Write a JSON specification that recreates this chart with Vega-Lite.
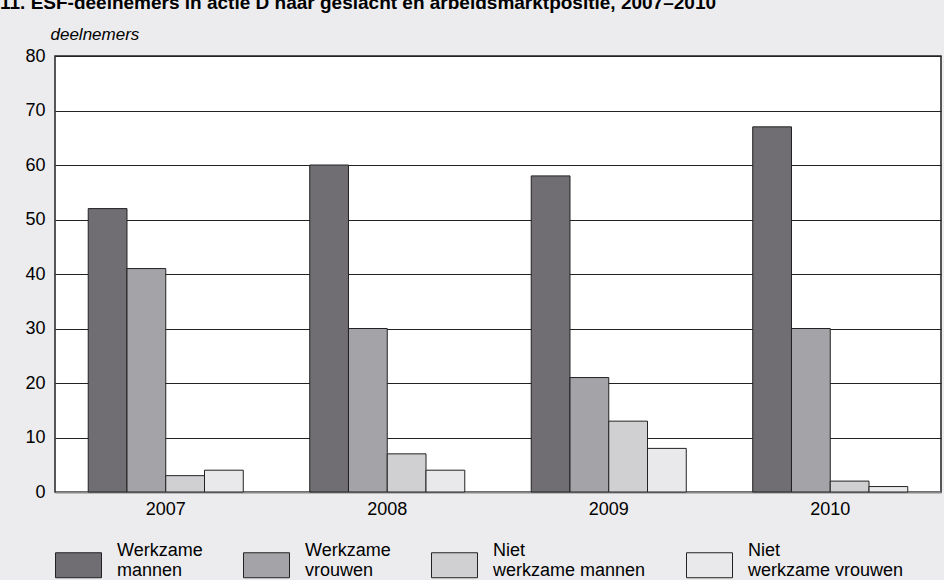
{
  "$schema": "https://vega.github.io/schema/vega-lite/v6.json",
  "width": 886,
  "height": 436,
  "autosize": {"type": "none"},
  "padding": {"left": 55, "top": 56, "right": 3, "bottom": 88},
  "background": "#ececee",
  "title": {
    "text": "11. ESF-deelnemers in actie D naar geslacht en arbeidsmarktpositie, 2007–2010",
    "anchor": "start",
    "frame": "group",
    "dx": -55,
    "dy": -12,
    "font": "Liberation Sans",
    "fontSize": 19,
    "fontWeight": "bold",
    "color": "#000000",
    "offset": 0
  },
  "config": {
    "font": "Liberation Sans",
    "view": {"fill": "#ffffff", "stroke": "#222222", "strokeWidth": 1.5}
  },
  "data": {
    "values": [
      {"jaar": "2007", "serie": "Werkzame mannen", "waarde": 52},
      {"jaar": "2007", "serie": "Werkzame vrouwen", "waarde": 41},
      {"jaar": "2007", "serie": "Niet werkzame mannen", "waarde": 3},
      {"jaar": "2007", "serie": "Niet werkzame vrouwen", "waarde": 4},
      {"jaar": "2008", "serie": "Werkzame mannen", "waarde": 60},
      {"jaar": "2008", "serie": "Werkzame vrouwen", "waarde": 30},
      {"jaar": "2008", "serie": "Niet werkzame mannen", "waarde": 7},
      {"jaar": "2008", "serie": "Niet werkzame vrouwen", "waarde": 4},
      {"jaar": "2009", "serie": "Werkzame mannen", "waarde": 58},
      {"jaar": "2009", "serie": "Werkzame vrouwen", "waarde": 21},
      {"jaar": "2009", "serie": "Niet werkzame mannen", "waarde": 13},
      {"jaar": "2009", "serie": "Niet werkzame vrouwen", "waarde": 8},
      {"jaar": "2010", "serie": "Werkzame mannen", "waarde": 67},
      {"jaar": "2010", "serie": "Werkzame vrouwen", "waarde": 30},
      {"jaar": "2010", "serie": "Niet werkzame mannen", "waarde": 2},
      {"jaar": "2010", "serie": "Niet werkzame vrouwen", "waarde": 1}
    ]
  },
  "mark": {"type": "bar", "stroke": "#222222", "strokeWidth": 1},
  "encoding": {
    "x": {
      "field": "jaar",
      "type": "nominal",
      "scale": {"paddingInner": 0.3, "paddingOuter": 0.15},
      "axis": {
        "title": null,
        "labelAngle": 0,
        "ticks": false,
        "labelPadding": 8,
        "labelFontSize": 18,
        "labelColor": "#000000",
        "domainColor": "#888888",
        "domainWidth": 2
      }
    },
    "xOffset": {
      "field": "serie",
      "type": "nominal",
      "sort": ["Werkzame mannen", "Werkzame vrouwen", "Niet werkzame mannen", "Niet werkzame vrouwen"],
      "scale": {"paddingInner": 0, "paddingOuter": 0}
    },
    "y": {
      "field": "waarde",
      "type": "quantitative",
      "scale": {"domain": [0, 80], "nice": false},
      "axis": {
        "title": "deelnemers",
        "titleAngle": 0,
        "titleAlign": "left",
        "titleBaseline": "alphabetic",
        "titleX": -5,
        "titleY": -17,
        "titleFontStyle": "italic",
        "titleFontWeight": "normal",
        "titleFontSize": 17,
        "titleColor": "#000000",
        "values": [0, 10, 20, 30, 40, 50, 60, 70, 80],
        "ticks": false,
        "labelPadding": 10,
        "labelFontSize": 18,
        "labelColor": "#000000",
        "domain": false,
        "grid": true,
        "gridColor": "#222222",
        "gridWidth": 1.2
      }
    },
    "fill": {
      "field": "serie",
      "type": "nominal",
      "sort": ["Werkzame mannen", "Werkzame vrouwen", "Niet werkzame mannen", "Niet werkzame vrouwen"],
      "scale": {
        "domain": ["Werkzame mannen", "Werkzame vrouwen", "Niet werkzame mannen", "Niet werkzame vrouwen"],
        "range": ["#716e73", "#a4a3a7", "#d0d0d2", "#e9e9eb"]
      },
      "legend": {
        "title": null,
        "orient": "none",
        "legendX": 0,
        "legendY": 480,
        "direction": "horizontal",
        "columns": 4,
        "columnPadding": 38,
        "padding": 0,
        "symbolType": "M-1,-0.304H1V0.782H-1Z",
        "symbolSize": 2116,
        "symbolStrokeColor": "#222222",
        "symbolStrokeWidth": 1,
        "symbolOpacity": 1,
        "labelOffset": 15,
        "labelFontSize": 18,
        "labelBaseline": "bottom",
        "labelColor": "#000000",
        "labelLimit": 300,
        "labelExpr": "indexof(datum.label, 'Niet') == 0 ? ['Niet', substring(datum.label, 5)] : split(datum.label, ' ')"
      }
    }
  }
}
